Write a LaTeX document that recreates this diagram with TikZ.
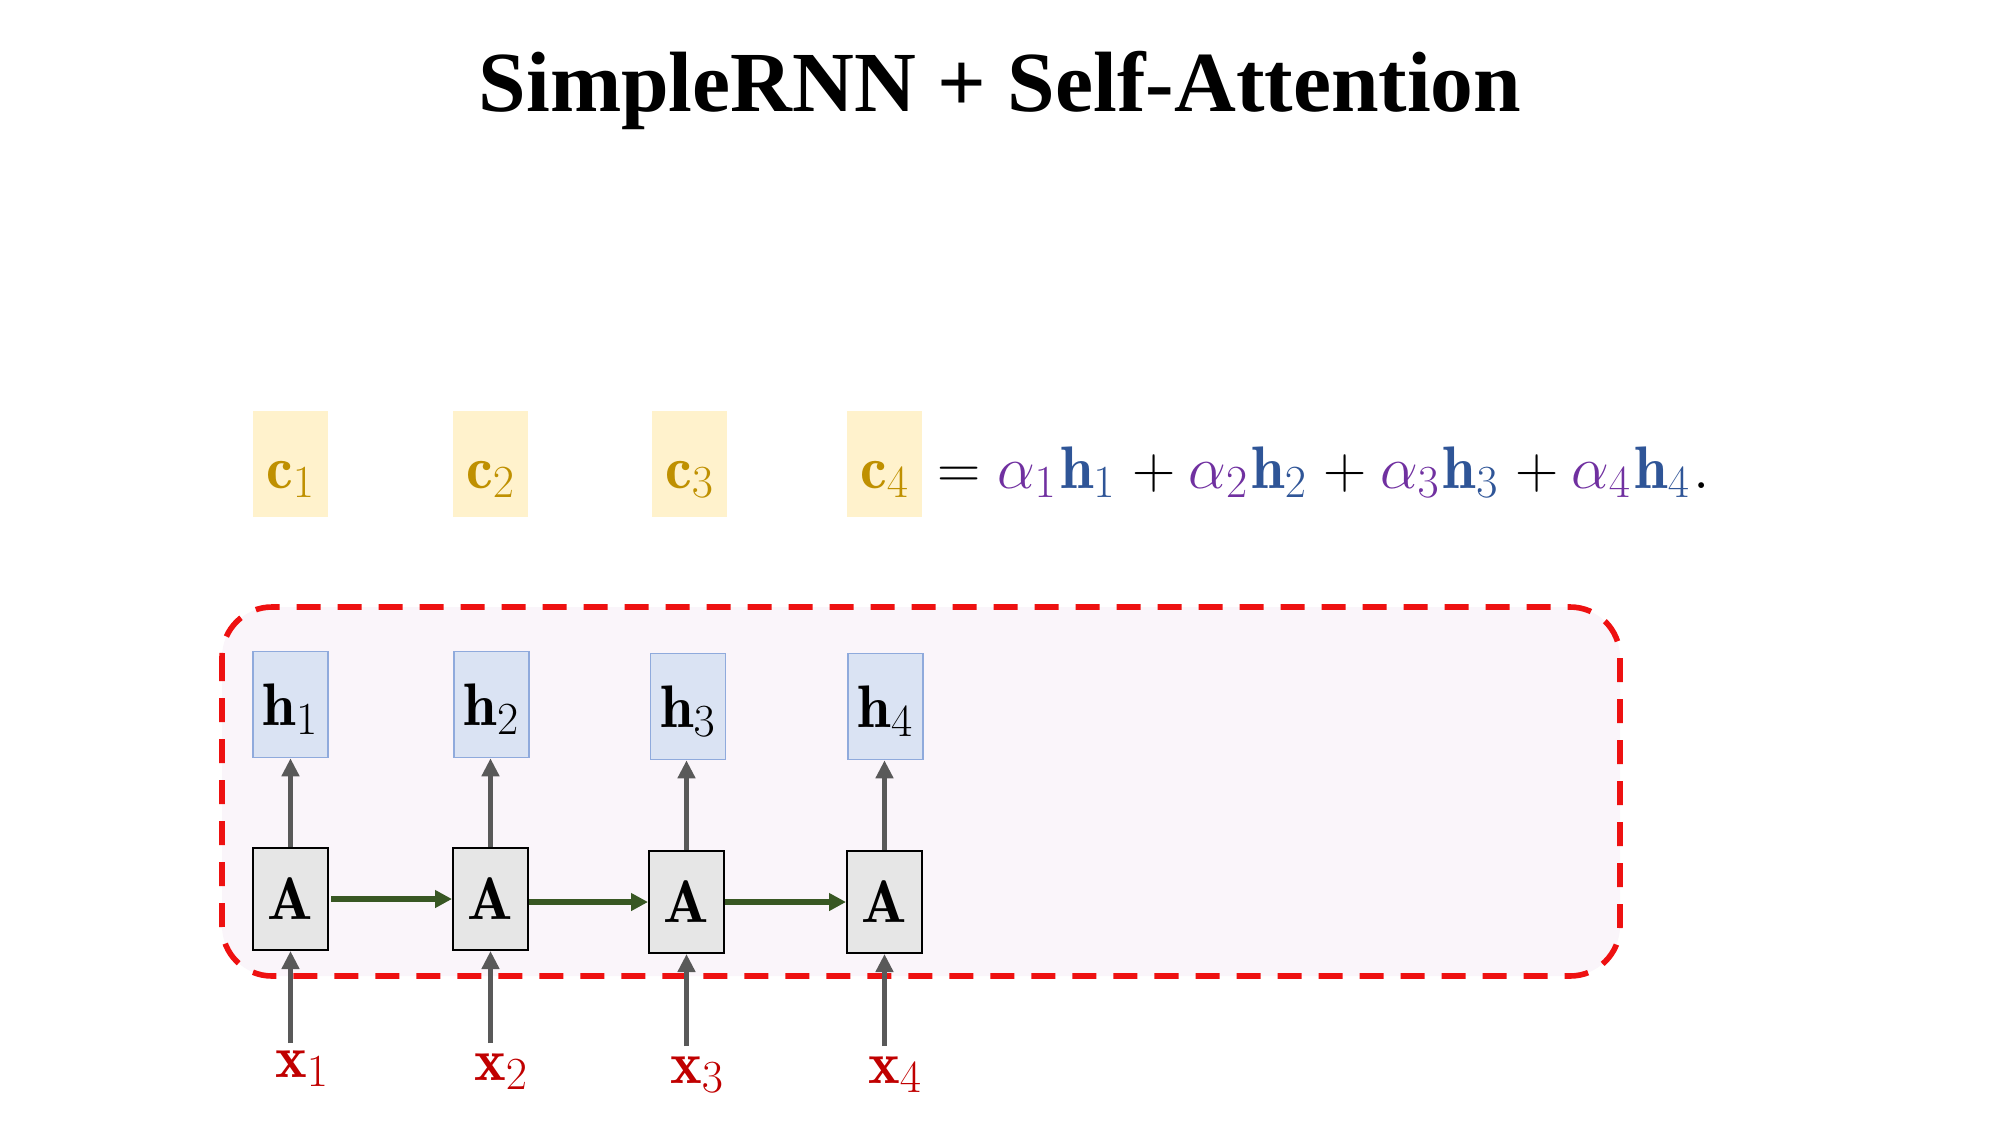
\documentclass[tikz,border=0pt]{standalone}
\usepackage{fix-cm}
\usepackage{fontspec}
\newfontfamily\titlefont{Liberation Serif}
\usetikzlibrary{arrows.meta}
\DeclareMathSizes{30}{30}{23}{17}
\definecolor{cfill}{HTML}{FFF2CC}
\definecolor{cgold}{HTML}{BF9000}
\definecolor{hfill}{HTML}{DAE3F3}
\definecolor{hdraw}{HTML}{8FAADC}
\definecolor{afill}{HTML}{E6E6E6}
\definecolor{agray}{HTML}{595959}
\definecolor{agreen}{HTML}{385723}
\definecolor{xred}{HTML}{C00000}
\definecolor{apurple}{HTML}{7030A0}
\definecolor{hblue}{HTML}{2F5597}
\definecolor{boxfill}{HTML}{FAF5FA}
\definecolor{boxred}{HTML}{EE1111}
\newcommand{\ahterm}[1]{\textcolor{apurple}{\alpha_{#1}}\mkern1mu\textcolor{hblue}{\mathbf{h}_{#1}}\mkern1mu}
\tikzset{
  mathfont/.style={font=\fontsize{30}{36}\selectfont},
  cbox/.style={mathfont, fill=cfill, text=cgold, minimum width=37.5pt, minimum height=53pt, inner sep=0pt, text height=24pt, text depth=0pt},
  hbox/.style={mathfont, fill=hfill, draw=hdraw, line width=0.8pt, minimum width=37.5pt, minimum height=53pt, inner sep=0pt, text height=20.5pt, text depth=0pt},
  abox/.style={mathfont, fill=afill, draw=black, line width=1pt, minimum width=37.5pt, minimum height=51pt, inner sep=0pt, text height=20pt, text depth=0pt},
  xlab/.style={mathfont, text=xred, anchor=base, inner sep=0pt},
  grayarrow/.style={draw=agray, line width=2.6pt, -{Triangle[length=9pt,width=8.5pt]}},
  greenarrow/.style={draw=agreen, line width=2.6pt, -{Triangle[length=8.5pt,width=8.5pt]}},
}
\begin{document}
\begin{tikzpicture}[x=0.5pt,y=-0.5pt]
\useasboundingbox (0,0) rectangle (2000,1125);
% title
\node[font=\titlefont\bfseries\fontsize{42.8}{50}\selectfont, anchor=base, inner sep=0pt] (title) at (1000,111) {SimpleRNN + Self-Attention};
% dashed container
\draw[boxred, fill=boxfill, line width=2.8pt, dash pattern=on 12pt off 8.5pt, rounded corners=25pt] (222,607) rectangle (1620,976);
% c boxes
\node[cbox] (c1) at (290.5,464) {$\mathbf{c}_1$};
\node[cbox] (c2) at (490.5,464) {$\mathbf{c}_2$};
\node[cbox] (c3) at (689.5,464) {$\mathbf{c}_3$};
\node[cbox] (c4) at (884.5,464) {$\mathbf{c}_4$};
\node[mathfont, anchor=base west, inner sep=0pt] (eq) at (937,488) {$=\ahterm{1}+\ahterm{2}+\ahterm{3}+\ahterm{4}.$};
% h boxes
\node[hbox] (h1) at (290.5,704.5) {$\mathbf{h}_1$};
\node[hbox] (h2) at (491.5,704.5) {$\mathbf{h}_2$};
\node[hbox] (h3) at (688,706.5) {$\mathbf{h}_3$};
\node[hbox] (h4) at (885.5,706.5) {$\mathbf{h}_4$};
% A boxes
\node[abox] (A1) at (290.5,899) {$\mathbf{A}$};
\node[abox] (A2) at (490.5,899) {$\mathbf{A}$};
\node[abox] (A3) at (686.5,902) {$\mathbf{A}$};
\node[abox] (A4) at (884.5,902) {$\mathbf{A}$};
% vertical arrows A -> h
\draw[grayarrow] (A1.north) -- (A1.north |- h1.south);
\draw[grayarrow] (A2.north) -- (A2.north |- h2.south);
\draw[grayarrow] (A3.north) -- (A3.north |- h3.south);
\draw[grayarrow] (A4.north) -- (A4.north |- h4.south);
% green arrows
\draw[greenarrow] ([xshift=1pt]A1.east) -- (A2.west);
\draw[greenarrow] (A2.east |- A3.west) -- (A3.west);
\draw[greenarrow] (A3.east) -- (A4.west);
% inputs
\coordinate (s1) at (290.5,1043);
\coordinate (s2) at (490.5,1043);
\coordinate (s3) at (686.5,1046);
\coordinate (s4) at (884.5,1046);
\draw[grayarrow] (s1) -- (A1.south);
\draw[grayarrow] (s2) -- (A2.south);
\draw[grayarrow] (s3) -- (A3.south);
\draw[grayarrow] (s4) -- (A4.south);
\node[xlab] (x1) at (302,1077) {$\mathbf{x}_1$};
\node[xlab] (x2) at (501,1080) {$\mathbf{x}_2$};
\node[xlab] (x3) at (697,1083) {$\mathbf{x}_3$};
\node[xlab] (x4) at (895,1083) {$\mathbf{x}_4$};
\end{tikzpicture}
\end{document}
